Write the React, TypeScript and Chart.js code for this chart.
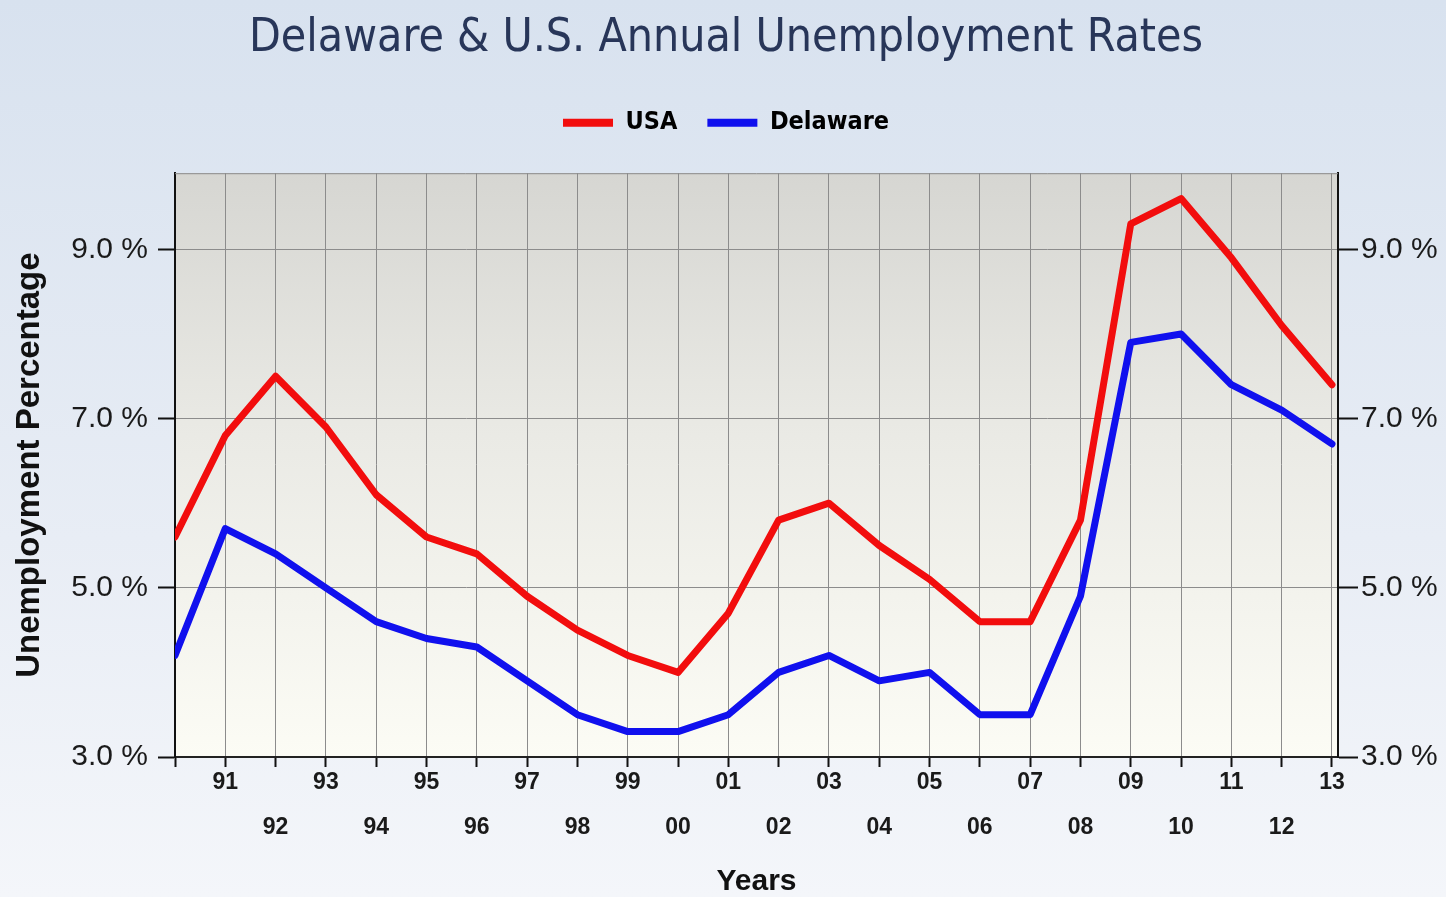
import React, { useEffect, useRef } from "react";
import { Chart, registerables } from "chart.js";

Chart.register(...registerables);

const years = [1990, 1991, 1992, 1993, 1994, 1995, 1996, 1997, 1998, 1999, 2000, 2001, 2002, 2003, 2004, 2005, 2006, 2007, 2008, 2009, 2010, 2011, 2012, 2013];
const usaRates = [5.6, 6.8, 7.5, 6.9, 6.1, 5.6, 5.4, 4.9, 4.5, 4.2, 4.0, 4.7, 5.8, 6.0, 5.5, 5.1, 4.6, 4.6, 5.8, 9.3, 9.6, 8.9, 8.1, 7.4];
const delawareRates = [4.2, 5.7, 5.4, 5.0, 4.6, 4.4, 4.3, 3.9, 3.5, 3.3, 3.3, 3.5, 4.0, 4.2, 3.9, 4.0, 3.5, 3.5, 4.9, 7.9, 8.0, 7.4, 7.1, 6.7];
const yTickValues = [3, 5, 7, 9];
const seriesNames = ["USA", "Delaware"];

const W = 1446;
const H = 897;
const PLOT_LEFT = 175;
const PLOT_RIGHT = 1338;
const PLOT_BOTTOM = 757;
const PAD_LEFT = 6;

function yearLabel(v: number): string | string[] {
  const y = Math.round(v);
  if (y === years[0]) return "";
  const s = String(y % 100).padStart(2, "0");
  return y % 2 === 1 ? s : ["", s];
}

export default function App() {
  const ref = useRef<HTMLCanvasElement>(null);

  useEffect(() => {
    document.body.style.margin = "0";
    const canvas = ref.current;
    if (!canvas) return;

    const bgPlugin = {
      id: "bgPlugin",
      beforeDraw(chart: any) {
        const { ctx, width, height, chartArea } = chart;
        ctx.save();
        const g = ctx.createLinearGradient(0, 0, 0, height);
        g.addColorStop(0, "#d8e2ef");
        g.addColorStop(0.6, "#e8edf5");
        g.addColorStop(1, "#f4f6fa");
        ctx.fillStyle = g;
        ctx.fillRect(0, 0, width, height);
        const pg = ctx.createLinearGradient(0, chartArea.top, 0, chartArea.bottom);
        pg.addColorStop(0, "#d6d6d2");
        pg.addColorStop(0.45, "#eaeae5");
        pg.addColorStop(1, "#fcfcf5");
        ctx.fillStyle = pg;
        ctx.fillRect(chartArea.left, chartArea.top, chartArea.right - chartArea.left, chartArea.bottom - chartArea.top);
        ctx.restore();
      },
      beforeDatasetsDraw(chart: any) {
        const { ctx, chartArea } = chart;
        ctx.save();
        ctx.strokeStyle = "#8a8a8a";
        ctx.lineWidth = 1;
        ctx.beginPath();
        ctx.moveTo(chartArea.left, chartArea.top + 0.5);
        ctx.lineTo(chartArea.right, chartArea.top + 0.5);
        ctx.stroke();
        ctx.restore();
      },
    };

    const tickFont = { family: "'Liberation Sans Narrow', 'Arial Narrow', 'Liberation Sans', sans-serif", size: 30 };

    const chart = new Chart(canvas, {
      type: "line",
      data: {
        datasets: [
          {
            label: seriesNames[0],
            data: years.map((y, i) => ({ x: y, y: usaRates[i] })),
            borderColor: "#f20d0d",
            backgroundColor: "#f20d0d",
            borderWidth: 7,
            pointRadius: 0,
            borderJoinStyle: "round",
            borderCapStyle: "round",
            tension: 0,
            yAxisID: "y",
          },
          {
            label: seriesNames[1],
            data: years.map((y, i) => ({ x: y, y: delawareRates[i] })),
            borderColor: "#1010ee",
            backgroundColor: "#1010ee",
            borderWidth: 7,
            pointRadius: 0,
            borderJoinStyle: "round",
            borderCapStyle: "round",
            tension: 0,
            yAxisID: "y",
          },
        ],
      },
      options: {
        animation: false,
        responsive: false,
        maintainAspectRatio: false,
        devicePixelRatio: 1,
        layout: { padding: { left: PAD_LEFT, right: 0, top: 0, bottom: 0 } },
        plugins: {
          title: {
            display: true,
            text: "Delaware & U.S. Annual Unemployment Rates",
            color: "#283659",
            font: { family: "'DejaVu Sans Condensed', 'DejaVu Sans', sans-serif", size: 46, weight: "normal" },
            padding: { top: 11, bottom: 14 },
          },
          subtitle: {
            display: true,
            text: "",
            weight: 500,
            font: { size: 1, lineHeight: 1 },
            padding: { top: 0, bottom: 27 },
          },
          legend: {
            display: true,
            position: "top",
            labels: {
              boxWidth: 50,
              boxHeight: 8,
              padding: 30,
              color: "#1c2444",
              font: { family: "'DejaVu Sans Condensed', 'DejaVu Sans', sans-serif", size: 25, weight: "bold" },
              generateLabels: (c: any) =>
                c.data.datasets.map((ds: any, i: number) => ({
                  text: ds.label,
                  fillStyle: ds.borderColor,
                  strokeStyle: ds.borderColor,
                  lineWidth: 0,
                  hidden: false,
                  datasetIndex: i,
                })),
            },
          },
          tooltip: { enabled: false },
        },
        scales: {
          x: {
            type: "linear",
            min: years[0],
            max: years[years.length - 1] + 0.12,
            afterBuildTicks: (s: any) => {
              s.ticks = years.map((v) => ({ value: v }));
            },
            afterFit: (s: any) => {
              s.height = H - PLOT_BOTTOM;
            },
            ticks: {
              autoSkip: false,
              maxRotation: 0,
              minRotation: 0,
              padding: -6.5,
              color: "#1a1a1a",
              font: { family: "'Liberation Sans', Arial, sans-serif", size: 23, weight: "bold", lineHeight: "45px" },
              callback: (v: any) => yearLabel(Number(v)),
            },
            grid: { color: "#8c8c8c", lineWidth: 1, tickLength: 10, tickColor: "#111", tickWidth: 2 },
            border: { color: "#222", width: 2 },
            title: {
              display: true,
              text: "Years",
              color: "#111",
              font: { family: "'Liberation Sans', Arial, sans-serif", size: 30, weight: "bold", lineHeight: 1 },
              padding: { top: 0, bottom: 0 },
            },
          },
          y: {
            type: "linear",
            position: "left",
            min: 3,
            max: 9.9,
            afterBuildTicks: (s: any) => {
              s.ticks = yTickValues.map((v) => ({ value: v }));
            },
            afterFit: (s: any) => {
              s.width = PLOT_LEFT - PAD_LEFT;
            },
            ticks: {
              padding: 10,
              color: "#1a1a1a",
              font: tickFont,
              callback: (v: any) => Number(v).toFixed(1) + " %",
            },
            grid: { color: "#8c8c8c", lineWidth: 1, tickLength: 17, tickColor: "#111", tickWidth: 2 },
            border: { color: "#111", width: 2 },
            title: {
              display: true,
              text: "Unemployment Percentage",
              color: "#111",
              font: { family: "'Liberation Sans', Arial, sans-serif", size: 33, weight: "bold", lineHeight: 1.1 },
              padding: { top: 6, bottom: 0 },
            },
          },
          y2: {
            type: "linear",
            position: "right",
            min: 3,
            max: 9.9,
            afterBuildTicks: (s: any) => {
              s.ticks = yTickValues.map((v) => ({ value: v }));
            },
            afterFit: (s: any) => {
              s.width = W - PLOT_RIGHT;
            },
            ticks: {
              padding: 3,
              color: "#1a1a1a",
              font: tickFont,
              callback: (v: any) => Number(v).toFixed(1) + " %",
            },
            grid: { drawOnChartArea: false, tickLength: 20, tickColor: "#111", tickWidth: 2 },
            border: { color: "#111", width: 2 },
          },
        },
      },
      plugins: [bgPlugin],
    } as any);

    return () => chart.destroy();
  }, []);

  return (
    <div style={{ width: W, height: H }}>
      <canvas ref={ref} width={W} height={H} style={{ display: "block", width: W, height: H }} />
    </div>
  );
}
